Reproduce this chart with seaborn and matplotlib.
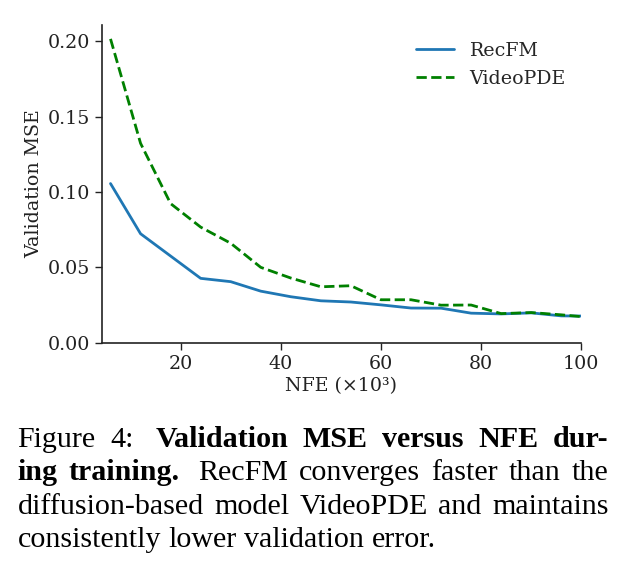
import matplotlib
matplotlib.use("Agg")
import matplotlib.pyplot as plt
import seaborn as sns
import pandas as pd

nfe = [6, 12, 18, 24, 30, 36, 42, 48, 54, 60, 66, 72, 78, 84, 90, 96, 100]
recfm = [0.1056, 0.0723, 0.0575, 0.0427, 0.0405, 0.0342, 0.0305, 0.0278, 0.0270,
         0.0251, 0.0230, 0.0229, 0.0196, 0.0191, 0.0198, 0.0178, 0.0177]
videopde = [0.2016, 0.1323, 0.0923, 0.0767, 0.0660, 0.0500, 0.0429, 0.0371, 0.0378,
            0.0285, 0.0285, 0.0249, 0.0250, 0.0193, 0.0200, 0.0185, 0.0173]
yticks = [0.00, 0.05, 0.10, 0.15, 0.20]
xticks = [20, 40, 60, 80, 100]

caption_lines = [
    [("Figure", False), ("4:", False), ("Validation", True), ("MSE", True),
     ("versus", True), ("NFE", True), ("dur-", True)],
    [("ing", True), ("training.", True), ("RecFM", False), ("converges", False),
     ("faster", False), ("than", False), ("the", False)],
    [("diffusion-based", False), ("model", False), ("VideoPDE", False),
     ("and", False), ("maintains", False)],
    [("consistently", False), ("lower", False), ("validation", False), ("error.", False)],
]

sns.set_theme(style="ticks")
plt.rcParams["font.family"] = ["DejaVu Serif"]

W, H = 629, 569
fig = plt.figure(figsize=(W / 100, H / 100), dpi=100)
ax = fig.add_axes([101.5 / W, 1 - 342.7 / H, (581.3 - 101.5) / W, (342.7 - 25) / H])

df = pd.DataFrame({"NFE": nfe, "RecFM": recfm, "VideoPDE": videopde})
sns.lineplot(data=df, x="NFE", y="RecFM", ax=ax, color="#1f77b4", lw=2, label="RecFM")
sns.lineplot(data=df, x="NFE", y="VideoPDE", ax=ax, color="green", lw=2,
             linestyle="--", label="VideoPDE")

ax.set_xlim(4.2, 100)
ax.set_ylim(bottom=0)
ax.set_xticks(xticks)
ax.set_yticks(yticks)
ax.set_yticklabels([f"{v:.2f}" for v in yticks])
ax.tick_params(labelsize=13.7, length=5, width=1, colors="#222222", labelcolor="#222222")
ax.set_xlabel("NFE (×10³)", fontsize=13.7, color="#222222", labelpad=3)
ax.set_ylabel("Validation MSE", fontsize=13.7, color="#222222", labelpad=3)
for s in ["left", "bottom"]:
    ax.spines[s].set_color("#222222")
    ax.spines[s].set_linewidth(1.2)
sns.despine(ax=ax)
leg = ax.legend(frameon=False, fontsize=13.7, loc="upper right",
                bbox_to_anchor=(1.003, 1.0))

# Justified caption
renderer = fig.canvas.get_renderer()
left, right = 17.5, 608.5
baselines = [447.3, 480.5, 513.7, 546.9]
fs = 21.6
for li, (line, base) in enumerate(zip(caption_lines, baselines)):
    texts = []
    widths = []
    for word, bold in line:
        t = fig.text(0, 1 - base / H, word, fontsize=fs, family="Liberation Serif",
                     fontweight="bold" if bold else "normal", color="black",
                     va="baseline", ha="left")
        bb = t.get_window_extent(renderer)
        texts.append(t)
        widths.append(bb.width)
    n = len(widths) - 1
    if li < len(caption_lines) - 1:
        total = right - left - sum(widths)
        if li in (0, 1):
            g = (total - 7) / n
            gaps = [g] * n
            gaps[1] += 7
        else:
            gaps = [total / n] * n
    else:
        gaps = [fs * 100 / 72 * 0.25] * n
    x = left
    for i, t in enumerate(texts):
        t.set_x(x / W)
        x += widths[i]
        if i < len(gaps):
            x += gaps[i]

fig.savefig("out.png", dpi=100)
